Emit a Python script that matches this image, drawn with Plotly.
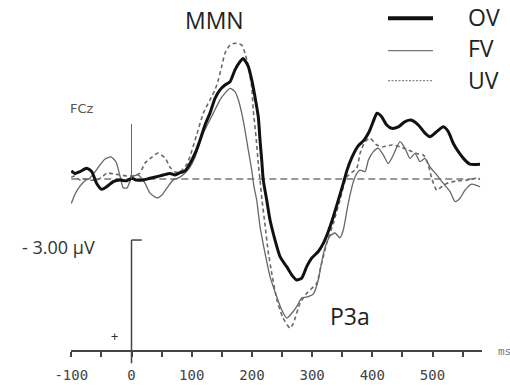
import plotly.graph_objects as go

# ---------------- data (time in ms, amplitude in µV; negative plotted up) ----------------
OV_MS = [-100, -94, -85.5, -74.4, -66.1, -57.8, -49.5, -41.2, -30.2, -19.1, -8, 0.3, 8.6, 19.6,
         30.7, 41.9, 52.8, 64, 72.3, 80.6, 88.9, 97.2, 105.5, 113.8, 122.1, 130.4, 138.7, 147,
         155.3, 163.6, 171.9, 180.2, 185.2, 190.2, 194, 199.7, 205.1, 210.6, 213.5, 216.3, 218.9,
         224.6, 230.1, 238.4, 246.7, 257.8, 266.1, 274.4, 282.7, 291, 299.3, 310.3, 318.6, 326.9,
         335.2, 343.5, 351.8, 358, 366.3, 376.2, 386.2, 394.5, 401.2, 407.8, 415.6, 423.9, 432.2,
         443.2, 454.3, 465.4, 476.4, 487.5, 495.8, 507, 518, 526.2, 534.6, 542.9, 554, 562.3, 578.9]
OV_UV = [-0.22, -0.15, -0.20, -0.29, -0.20, 0.12, 0.28, 0.21, 0.07, 0.03, 0.05, -0.02, 0.03, 0.03,
         -0.02, -0.06, -0.11, -0.15, -0.11, -0.17, -0.22, -0.42, -0.69, -1.05, -1.46, -1.78, -2.18, -2.41,
         -2.54, -2.63, -2.95, -3.17, -3.26, -3.16, -3.04, -2.68, -2.22, -1.68, -1.05, -0.51, 0.03,
         0.57, 1.11, 1.65, 2.10, 2.37, 2.59, 2.73, 2.68, 2.37, 2.14, 1.96, 1.74, 1.42,
         1.02, 0.57, 0.12, -0.24, -0.59, -0.89, -1.05, -1.27, -1.54, -1.78, -1.68, -1.46, -1.37,
         -1.41, -1.55, -1.59, -1.46, -1.24, -1.14, -1.28, -1.41, -1.28, -0.96, -0.74, -0.51, -0.40, -0.40]

FV_MS = [-100, -93.9, -85.5, -77.2, -68.9, -60.6, -52.3, -44, -34.1, -25.7, -19.1, -13.6, -7.5, 0.8,
         10.8, 22.4, 30.7, 42.4, 50.7, 59, 68.9, 80.6, 88.9, 97.2, 105.5, 119.3, 135.9, 147, 155.3,
         163.6, 171.9, 177.4, 183.1, 188.5, 194, 199.7, 203.5, 208, 213.5, 221.8, 230.1, 241.2,
         249.5, 257.8, 266.1, 274.4, 282.7, 293.7, 302, 310.3, 315.9, 321.4, 329.7, 338, 346.3,
         351.8, 360.1, 368.4, 374.6, 379.6, 387.9, 393.4, 401.7, 410, 418.3, 426.6, 434.9, 446,
         454.3, 462.6, 470.9, 479.2, 487.5, 495.8, 507, 518, 529.1, 537.4, 545.7, 554, 565.1, 578.9]
FV_UV = [0.66, 0.41, 0.19, 0.05, -0.03, -0.19, -0.38, -0.54, -0.60, -0.46, -0.08, 0.24, 0.24, -0.05,
         -0.11, 0.11, 0.38, 0.51, 0.43, 0.24, 0.03, -0.05, -0.16, -0.32, -0.59, -1.24, -1.78, -2.14, -2.32,
         -2.45, -2.36, -2.14, -1.78, -1.32, -0.78, -0.24, 0.21, 0.57, 1.29, 2.01, 2.64, 3.18,
         3.54, 3.76, 3.63, 3.45, 3.22, 3.18, 3.11, 2.73, 2.24, 1.86, 1.54, 1.46, 1.59,
         1.38, 0.65, 0.08, -0.16, -0.24, -0.20, -0.51, -0.74, -0.83, -0.65, -0.42, -0.65, -1.01,
         -0.83, -0.56, -0.69, -0.47, -0.56, -0.33, -0.11, 0.12, 0.34, 0.61, 0.52, 0.30, 0.14, 0.21]

UV_MS = [-100, -93.9, -85.5, -77.2, -68.9, -57.3, -47.3, -40.7, -30.7, -19.1, -7.5, -0.8, 7.5, 14.1,
         22.4, 34, 44, 55.6, 64, 72.3, 80.6, 92.2, 100.5, 108.8, 119.3, 130.4, 138.7, 144.2, 149.8,
         155.3, 163.6, 171.9, 183.1, 188.5, 194, 199.7, 202.3, 206.8, 210.6, 213.5, 216.8, 221.8,
         226.7, 233.4, 241.7, 251.7, 263.3, 268.8, 279.9, 291, 307.6, 313.1, 324.3, 335.2, 346.3,
         357.5, 374.1, 379.6, 387.9, 396.2, 407.3, 418.3, 432.2, 446, 459.8, 473.8, 484.7, 493,
         498.7, 507, 515.3, 523.6, 540.2, 556.8, 573.4, 578.9]
UV_UV = [-0.05, -0.08, 0.03, 0.0, 0.03, 0.03, -0.08, -0.16, -0.14, -0.11, -0.08, -0.08, -0.11, -0.16,
         -0.43, -0.59, -0.70, -0.57, -0.32, -0.19, -0.19, -0.41, -0.78, -1.22, -1.78, -2.14, -2.41, -2.68, -3.04,
         -3.40, -3.62, -3.67, -3.62, -3.40, -3.04, -2.49, -1.86, -1.14, -0.42, 0.03, 0.57, 1.24,
         1.92, 2.59, 3.27, 3.76, 4.03, 3.90, 3.36, 3.09, 2.82, 2.46, 1.74, 1.20, 0.57,
         -0.06, -0.29, -0.69, -1.01, -1.10, -0.92, -0.87, -0.92, -0.87, -0.78, -0.69, -0.65, -0.38,
         -0.02, 0.30, 0.21, 0.12, 0.05, 0.03, -0.02, 0.0]

TICK_MS = [-100, -50, 0, 50, 100, 150, 200, 250, 300, 350, 400, 450, 500, 550]
TICK_TEXT = ["-100", "", "0", "", "100", "", "200", "", "300", "", "400", "", "500", ""]
SERIES = ["OV", "FV", "UV"]
SCALE_UV = 3.0          # calibration bar (µV)
AXIS_UV = 4.65          # level of the drawn time axis
ELECTRODE = "FCz"

# ---------------- figure ----------------
W, H = 510, 386
X_RANGE = [-100.5, 582.2]
Y_RANGE = [5.595, -4.838]   # negative up

fig = go.Figure()
fig.add_trace(go.Scatter(x=FV_MS, y=FV_UV, mode="lines", name="FV",
                         line=dict(color="#666666", width=1.3, shape="spline", smoothing=0.6)))
fig.add_trace(go.Scatter(x=UV_MS, y=UV_UV, mode="lines", name="UV",
                         line=dict(color="#6a6a6a", width=1.6, dash="4px,3px", shape="spline", smoothing=0.6)))
fig.add_trace(go.Scatter(x=OV_MS, y=OV_UV, mode="lines", name="OV",
                         line=dict(color="#111111", width=3, shape="spline", smoothing=0.6)))

shapes = []
# dashed baseline
shapes.append(dict(type="line", xref="x", yref="y", x0=OV_MS[0], x1=OV_MS[-1], y0=0, y1=0,
                   line=dict(color="#777777", width=1.5, dash="7px,4px"), layer="below"))
# stimulus onset marker
shapes.append(dict(type="line", xref="x", yref="y", x0=0, x1=0, y0=-1.49, y1=0,
                   line=dict(color="#666666", width=1)))
# calibration bar
shapes.append(dict(type="line", xref="x", yref="y", x0=0, x1=0, y0=AXIS_UV - SCALE_UV, y1=AXIS_UV + 0.33,
                   line=dict(color="#444444", width=1.5)))
shapes.append(dict(type="line", xref="x", yref="y", x0=0, x1=17, y0=AXIS_UV - SCALE_UV, y1=AXIS_UV - SCALE_UV,
                   line=dict(color="#444444", width=1.5)))

# manual legend
leg_styles = {"OV": dict(color="#111111", width=4),
              "FV": dict(color="#777777", width=1.3),
              "UV": dict(color="#888888", width=1.3, dash="2px,1.5px")}
leg_y = {"OV": 18.3, "FV": 50.7, "UV": 80.7}
leg_text_y = {"OV": 17, "FV": 48, "UV": 80}
annotations = []
for s in SERIES:
    shapes.append(dict(type="line", xref="paper", yref="paper", x0=388 / W, x1=433 / W,
                       y0=1 - leg_y[s] / H, y1=1 - leg_y[s] / H, line=leg_styles[s]))
    annotations.append(dict(text=s, xref="paper", yref="paper", x=466 / W, y=1 - leg_text_y[s] / H,
                            xanchor="left", yanchor="middle", showarrow=False,
                            font=dict(family="Open Sans", size=23, color="#222222")))

annotations += [
    dict(text="MMN", xref="paper", yref="paper", x=214 / W, y=1 - 20 / H, xanchor="center", yanchor="middle",
         showarrow=False, font=dict(family="Open Sans", size=23, color="#222222")),
    dict(text="P3a", xref="paper", yref="paper", x=350 / W, y=1 - 316 / H, xanchor="center", yanchor="middle",
         showarrow=False, font=dict(family="Open Sans", size=23, color="#222222")),
    dict(text=ELECTRODE, xref="paper", yref="paper", x=68 / W, y=1 - 108 / H, xanchor="left", yanchor="middle",
         showarrow=False, font=dict(family="DejaVu Sans", size=13, color="#555555")),
    dict(text="- 3.00 µV", xref="paper", yref="paper", x=20 / W, y=1 - 247 / H, xanchor="left", yanchor="middle",
         showarrow=False, font=dict(family="Open Sans", size=18, color="#333333")),
    dict(text="+", xref="paper", yref="paper", x=114 / W, y=1 - 337 / H, xanchor="center", yanchor="middle",
         showarrow=False, font=dict(family="DejaVu Sans Mono", size=12, color="#333333")),
    dict(text="ms", xref="paper", yref="paper", x=496 / W, y=1 - 351 / H, xanchor="left", yanchor="middle",
         showarrow=False, font=dict(family="DejaVu Sans Mono", size=11, color="#777777")),
]

fig.update_layout(
    width=W, height=H, autosize=False,
    margin=dict(l=0, r=0, t=0, b=0, pad=0, autoexpand=False),
    paper_bgcolor="white", plot_bgcolor="white",
    showlegend=False,
    shapes=shapes, annotations=annotations,
    xaxis=dict(domain=[71 / W, 482 / W], range=X_RANGE, anchor="free", position=(H - 351) / H,
               automargin=False,
               showgrid=False, zeroline=False, showline=True, linecolor="#444444", linewidth=1.5,
               ticks="outside", ticklen=5, tickwidth=1.5, tickcolor="#444444",
               tickmode="array", tickvals=TICK_MS, ticktext=TICK_TEXT, ticklabelstandoff=6,
               tickfont=dict(family="DejaVu Sans Mono", size=14, color="#444444")),
    yaxis=dict(range=Y_RANGE, visible=False, domain=[0, 1], automargin=False),
)

fig.write_html("out.html", config={"displayModeBar": False},
               post_script="document.body.style.margin='0';document.body.style.overflow='hidden';")
